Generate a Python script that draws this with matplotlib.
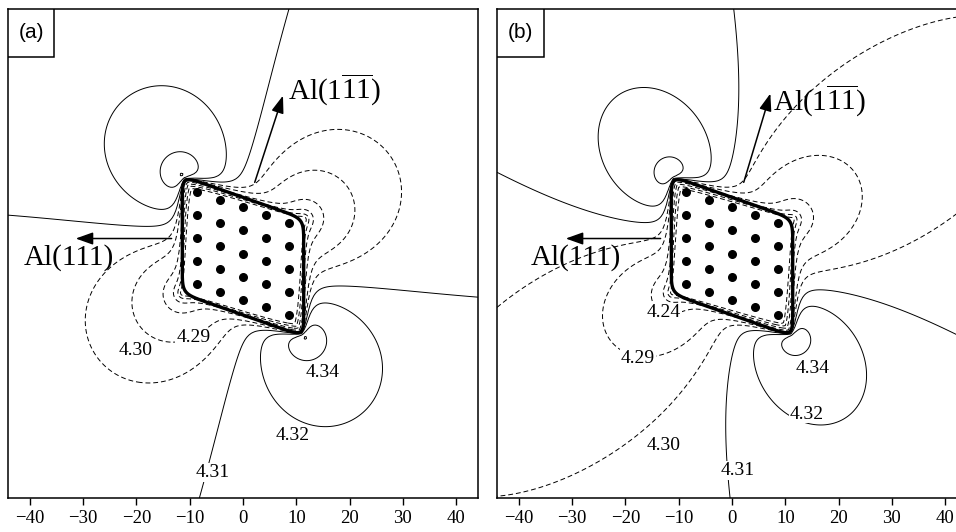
import numpy as np
import matplotlib
matplotlib.use('Agg')
import matplotlib.pyplot as plt
from matplotlib.patches import Rectangle

plt.rcParams['font.family'] = ['Liberation Serif', 'DejaVu Serif']
plt.rcParams['mathtext.fontset'] = 'custom'
plt.rcParams['mathtext.rm'] = 'Liberation Serif'
plt.rcParams['mathtext.it'] = 'Liberation Serif:italic'

xticks = [-40, -30, -20, -10, 0, 10, 20, 30, 40]

# 5x5 atom columns of the precipitate (sheared grid)
atom_cols = [-8.6, -4.3, 0.0, 4.3, 8.6]
atom_rows = [8.6, 4.3, 0.0, -4.3, -8.6]
atom_shear = -0.33

# precipitate outline (parallelogram)
prec_halfwidth = 11.4
prec_halfheight = 11.0
prec_shear = -0.35
prec_yc = -0.5

# contour levels (lattice parameter)
dashed_levels = [4.21, 4.23, 4.25, 4.27, 4.29, 4.30]
solid_levels = [4.31, 4.32, 4.34, 4.37, 4.40]

# strain-field model amplitudes for panel (a) and (b)
panel_names = ['(a)', '(b)']
background = [4.3103, 4.307]
shear_amp = [0.024, 0.020]
near_amp = [-0.0175, -0.0155]
far_amp = [0.0, 0.005]
inner_drop = [0.08, 0.08]
shear_angle = 125.0

# contour labels
lab_a = ['4.30', '4.29', '4.34', '4.32', '4.31']
lab_a_x = [-20.2, -9.3, 15.0, 9.3, -5.6]
lab_a_y = [-18.1, -15.7, -22.2, -34.0, -41.0]
lab_b = ['4.24', '4.29', '4.30', '4.31', '4.32', '4.34']
lab_b_x = [-12.8, -17.7, -12.8, 1.0, 14.1, 15.2]
lab_b_y = [-11.0, -19.6, -35.9, -40.6, -30.0, -21.5]

# arrows: tail, head, text centre
arr_left_tail = [(-13.4, 2.8), (-13.4, 2.8)]
arr_left_head = [(-31.4, 2.8), (-31.2, 2.8)]
arr_left_text = [(-32.7, -0.7), (-29.3, -0.7)]
arr_up_tail = [(2.2, 13.3), (2.2, 13.3)]
arr_up_head = [(7.5, 29.5), (7.2, 29.9)]
arr_up_text = [(17.1, 30.8), (16.5, 28.6)]


xs = np.linspace(-44.1, 44.1, 270)
ys = np.linspace(-45.7, 45.7, 280)
X, Y = np.meshgrid(xs, ys)


def field(bg, a_s, a_n, a_f, drop, lam=2.0, eps=0.5):
    h = 0.45
    u = np.arange(-prec_halfwidth + h / 2, prec_halfwidth, h)
    v = np.arange(-prec_halfheight + h / 2, prec_halfheight, h)
    U, V = np.meshgrid(u, v)
    sx = U.ravel()
    sy = (prec_yc + prec_shear * U + V).ravel()
    t = np.deg2rad(shear_angle)
    c2, s2 = np.cos(2 * t), np.sin(2 * t)
    S = np.zeros_like(X)
    N = np.zeros_like(X)
    for i in range(0, len(sx), 64):
        dx = X[None] - sx[i:i + 64, None, None]
        dy = Y[None] - sy[i:i + 64, None, None]
        r2 = dx * dx + dy * dy + eps * eps
        r = np.sqrt(r2)
        S += (((dx * dx - dy * dy) * c2 + 2 * dx * dy * s2) / (r2 * r2)).sum(0)
        N += (np.exp(-r / lam) / r2).sum(0)
    dA = h * h
    # slowly varying far field (cell boundary)
    Yc = Y - prec_yc
    R = np.hypot(X, Yc) + 1e-9
    far = ((X * X - Yc * Yc) * c2 + 2 * X * Yc * s2) / R ** 2 * (1 - np.exp(-R / 8))
    # flat interior of the precipitate
    pu = X
    pv = Y - prec_yc - prec_shear * X
    d = np.minimum(prec_halfwidth - np.abs(pu), prec_halfheight - np.abs(pv))
    inner = np.clip(d / 2.5, 0, 1)
    return bg + dA * (a_s * S + a_n * N) + a_f * far - drop * inner


fig = plt.figure(figsize=(9.56, 5.32), dpi=100)
axes = [fig.add_axes([8 / 956, 34 / 532, 470 / 956, 489 / 532]),
        fig.add_axes([497 / 956, 34 / 532, 470 / 956, 489 / 532])]

# outline of precipitate (rounded parallelogram)
tt = np.linspace(0, 2 * np.pi, 400)
nn = 12
ou = prec_halfwidth * np.sign(np.cos(tt)) * np.abs(np.cos(tt)) ** (2 / nn)
ov = prec_halfheight * np.sign(np.sin(tt)) * np.abs(np.sin(tt)) ** (2 / nn)
out_x = ou
out_y = prec_yc + prec_shear * ou + ov

ax_x = np.repeat(atom_cols, len(atom_rows))
ax_y = np.tile(atom_rows, len(atom_cols)) + atom_shear * ax_x

labels = [(lab_a, lab_a_x, lab_a_y), (lab_b, lab_b_x, lab_b_y)]

for k, ax in enumerate(axes):
    Z = field(background[k], shear_amp[k], near_amp[k], far_amp[k], inner_drop[k])
    ax.contour(X, Y, Z, levels=dashed_levels, colors='k', linewidths=0.7,
               linestyles=[(0, (5, 3))])
    ax.contour(X, Y, Z, levels=solid_levels, colors='k', linewidths=0.7,
               linestyles='solid')
    ax.plot(out_x, out_y, color='k', lw=2.4)
    ax.scatter(ax_x, ax_y, s=30, color='k', zorder=5)

    txt, lx, ly = labels[k]
    for s, x, y in zip(txt, lx, ly):
        ax.text(x, y, s, fontsize=14, ha='center', va='center', zorder=6,
                bbox=dict(boxstyle='square,pad=0.05', fc='white', ec='none'))

    ap = dict(arrowstyle='-|>,head_length=0.7,head_width=0.25', color='k',
              lw=1.1, mutation_scale=15, shrinkA=0, shrinkB=0)
    ax.annotate('', xy=arr_left_head[k], xytext=arr_left_tail[k], arrowprops=ap)
    ax.annotate('', xy=arr_up_head[k], xytext=arr_up_tail[k], arrowprops=ap)
    ax.text(*arr_left_text[k], 'Al(111)', fontsize=21, ha='center', va='center')
    ax.text(*arr_up_text[k], r'Al(1$\overline{\mathrm{1}}\overline{\mathrm{1}}$)',
            fontsize=21, ha='center', va='center')

    ax.set_xlim(-44.1, 44.1)
    ax.set_ylim(-45.7, 45.7)
    ax.set_xticks(xticks)
    ax.set_yticks([])
    ax.tick_params(axis='x', direction='out', length=5, width=1, labelsize=13.5)
    for sp in ax.spines.values():
        sp.set_linewidth(1.1)

    w = (46 if k == 0 else 47) / 470
    hgt = 48 / 489
    ax.add_patch(Rectangle((0, 1 - hgt), w, hgt, transform=ax.transAxes,
                           fc='white', ec='k', lw=1.1, zorder=7))
    ax.text(w / 2, 1 - hgt / 2, panel_names[k], transform=ax.transAxes,
            fontsize=15, ha='center', va='center', zorder=8,
            family=['Liberation Sans', 'DejaVu Sans'])

fig.savefig('out.png', dpi=100)
